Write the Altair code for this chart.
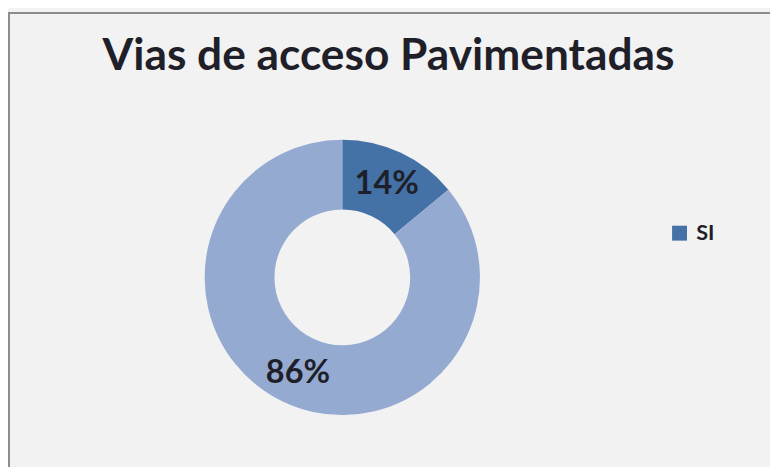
import altair as alt
import pandas as pd

title_text = ["Vias de acceso Pavimentadas"]
categories = ["SI", "NO"]
values = [14, 86]
labels = ["14%", "86%"]
order = [0, 1]
colors = ["#4472A7", "#94AAD1"]
legend_values = ["SI"]

df = pd.DataFrame({"cat": categories, "val": values, "label": labels, "ord": order})
tdf = pd.DataFrame({"t": title_text})

CX, CY = 340, 270
FONT = "Lato"

base = alt.Chart(df).encode(
    theta=alt.Theta("val:Q", stack=True),
    order=alt.Order("ord:Q"),
)

arcs = base.mark_arc(outerRadius=140, innerRadius=69, x=CX, y=CY).encode(
    color=alt.Color(
        "cat:N",
        scale=alt.Scale(domain=categories, range=colors),
        legend=alt.Legend(
            title=None,
            values=legend_values,
            orient="none",
            legendX=672,
            legendY=214,
            symbolType="square",
            symbolSize=230,
            symbolStrokeWidth=0,
            labelFont=FONT,
            labelFontSize=22,
            labelFontWeight="bold",
            labelColor="#1f1f2a",
            labelOffset=6,
        ),
    )
)

text = base.mark_text(
    radius=106, x=CX, y=CY + 1, font=FONT, fontSize=33, fontWeight="bold",
    color="#1f1f2a", align="center", baseline="middle",
).encode(text="label:N")

title = alt.Chart(tdf).mark_text(
    x=387, y=45, font=FONT, fontSize=45, fontWeight="bold",
    color="#1f1f2a", align="center", baseline="middle",
).encode(text="t:N")

left_border = alt.Chart(tdf).mark_rule(color="#8c8c8c", strokeWidth=2).encode(
    x=alt.value(1), y=alt.value(0), y2=alt.value(470)
)
top_border = alt.Chart(tdf).mark_rule(color="#8c8c8c", strokeWidth=2).encode(
    x=alt.value(0), x2=alt.value(775), y=alt.value(1)
)

chart = alt.layer(arcs, text, title, left_border, top_border).properties(
    width=775, height=470, padding=0, autosize="none", background="#f2f2f2",
).configure_view(stroke=None)

chart.save("out.html", embed_options={"renderer": "svg", "actions": False})
